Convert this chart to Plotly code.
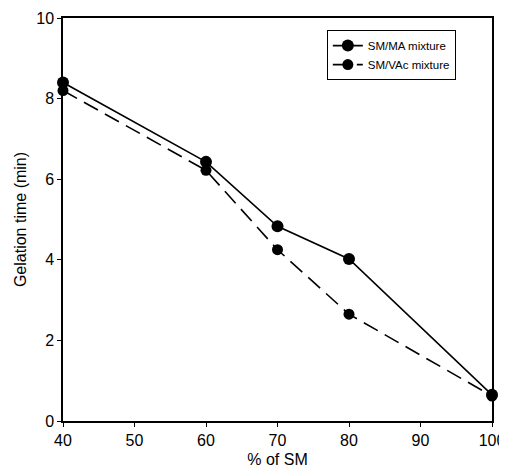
import plotly.graph_objects as go

sm_pct = [40, 60, 70, 80, 100]
ma_time = [8.4, 6.43, 4.83, 4.02, 0.65]
vac_time = [8.2, 6.22, 4.25, 2.65, 0.62]
x_ticks = [40, 50, 60, 70, 80, 90, 100]
y_ticks = [0, 2, 4, 6, 8, 10]

fig = go.Figure()
fig.add_trace(go.Scatter(
    x=sm_pct, y=ma_time, name="SM/MA mixture", mode="lines+markers",
    line=dict(color="black", width=1.6),
    marker=dict(symbol="circle", size=12, color="black"),
    cliponaxis=False))
fig.add_trace(go.Scatter(
    x=sm_pct, y=vac_time, name="SM/VAc mixture", mode="lines+markers",
    line=dict(color="black", width=1.6, dash="16px,8px"),
    marker=dict(symbol="circle", size=11, color="black"),
    cliponaxis=False))

# page body has an 8px margin, so the figure is sized to fit the window
fig.update_layout(
    width=499, height=465,
    margin=dict(l=55, r=15, t=10, b=52, autoexpand=False),
    plot_bgcolor="white", paper_bgcolor="white",
    font=dict(family="Liberation Sans, Arial, sans-serif", color="black", size=15),
    showlegend=True,
    legend=dict(x=0.615, y=0.97, xanchor="left", yanchor="top",
                bgcolor="white", bordercolor="black", borderwidth=1,
                font=dict(size=11.5), tracegroupgap=0, itemwidth=30),
    xaxis=dict(range=[40, 100], tickvals=x_ticks, ticks="outside", ticklen=4,
               tickcolor="black", showline=True, linecolor="black", linewidth=1.5,
               mirror=True, showgrid=False, zeroline=False, automargin=False,
               tickfont=dict(size=16),
               title=dict(text="% of SM", font=dict(size=16), standoff=6)),
    yaxis=dict(range=[0, 10], tickvals=y_ticks, ticks="outside", ticklen=4,
               tickcolor="black", showline=True, linecolor="black", linewidth=1.5,
               mirror=True, showgrid=False, zeroline=False, automargin=False,
               tickfont=dict(size=16),
               title=dict(text="Gelation time (min)", font=dict(size=16), standoff=6)),
)

fig.write_html("out.html")
